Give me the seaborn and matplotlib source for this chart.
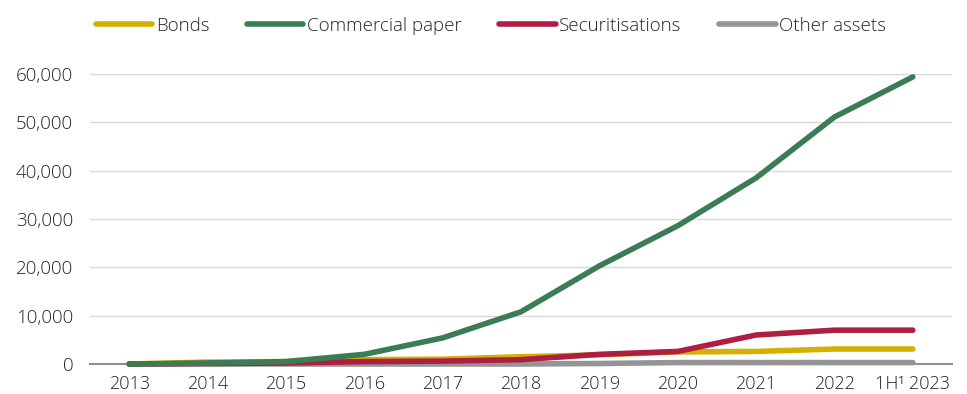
import matplotlib
matplotlib.use("Agg")
import matplotlib.pyplot as plt
import seaborn as sns
import pandas as pd
import numpy as np
from matplotlib.lines import Line2D

years = ["2013", "2014", "2015", "2016", "2017", "2018", "2019", "2020", "2021", "2022", "1H\u00b9 2023"]
bonds = [0, 400, 500, 900, 1000, 1500, 1900, 2500, 2600, 3100, 3100]
commercial_paper = [0, 200, 500, 2000, 5400, 10800, 20300, 28600, 38500, 51100, 59400]
securitisations = [0, 100, 200, 500, 600, 900, 2000, 2600, 6000, 7000, 7000]
other_assets = [0, 0, 0, 0, 0, 0, 100, 300, 300, 300, 300]

series_names = ["Bonds", "Commercial paper", "Securitisations", "Other assets"]
colors = ["#D4B000", "#3A7D55", "#AD1E42", "#959595"]

rows = []
for name, vals in zip(series_names, [bonds, commercial_paper, securitisations, other_assets]):
    for i, v in enumerate(vals):
        rows.append({"x": i, "value": v, "series": name})
df = pd.DataFrame(rows)

sns.set_theme(style="white")
plt.rcParams["font.family"] = ["Open Sans", "DejaVu Sans"]
plt.rcParams["font.weight"] = "light"

fig = plt.figure(figsize=(9.67, 3.94), dpi=100)
ax = fig.add_axes([90 / 967, 30 / 394, 862 / 967, 290 / 394])

order = ["Other assets", "Bonds", "Securitisations", "Commercial paper"]
pal = dict(zip(series_names, colors))
for name in order:
    sub = df[df.series == name]
    sns.lineplot(data=sub, x="x", y="value", ax=ax, color=pal[name], linewidth=4,
                 solid_capstyle="round", solid_joinstyle="round", legend=False,
                 clip_on=False, zorder=3)

ax.set_xlim(-0.5, len(years) - 0.5)
ax.set_ylim(0, 60000)
ax.set_yticks(np.arange(0, 60001, 10000))
ax.set_yticklabels([f"{v:,}" for v in range(0, 60001, 10000)])
ax.set_xticks(range(len(years)))
ax.set_xticklabels(years)
ax.set_xlabel("")
ax.set_ylabel("")
ax.yaxis.grid(True, color="#D9D9D9", linewidth=1)
ax.set_axisbelow(True)
for s in ["top", "right", "left"]:
    ax.spines[s].set_visible(False)
ax.spines["bottom"].set_color("#909090")
ax.spines["bottom"].set_linewidth(1.5)
ax.tick_params(axis="both", length=0, labelsize=13.5, colors="#222222")
ax.tick_params(axis="x", pad=8, labelsize=13)
ax.tick_params(axis="y", pad=12)

handles = [Line2D([0], [0], color=c, linewidth=4, solid_capstyle="round") for c in colors]
fig.legend(handles, series_names, loc="upper center", bbox_to_anchor=(0.508, 1.0), ncol=4,
           frameon=False, fontsize=13.5, handlelength=3.0, handletextpad=0.2, columnspacing=2.0)

fig.savefig("out.png", dpi=100)
